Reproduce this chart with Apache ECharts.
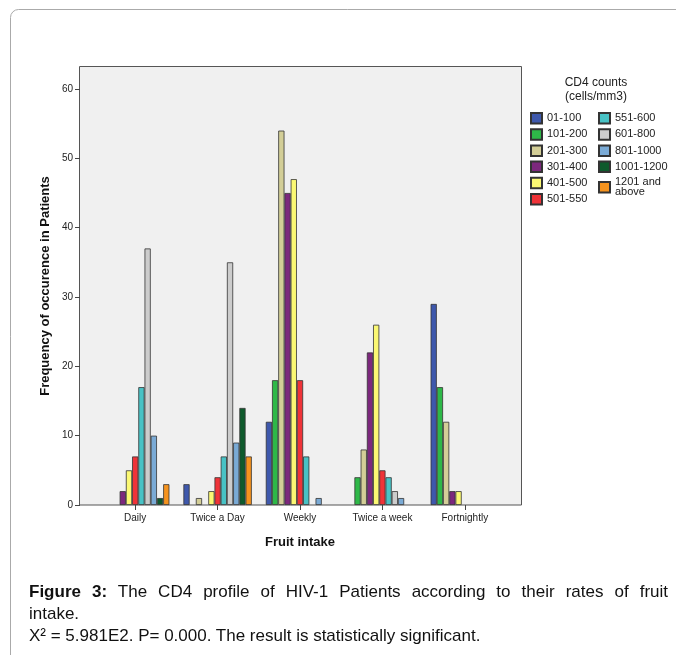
<!DOCTYPE html>
<html>
<head>
<meta charset="utf-8">
<script src="https://cdn.jsdelivr.net/npm/echarts@6/dist/echarts.min.js"></script>
<style>
  html, body { margin: 0; padding: 0; background: #fff; }
  #wrap { position: relative; width: 676px; height: 655px; overflow: hidden; }
  #chart { position: absolute; left: 0; top: 0; width: 676px; height: 655px; }
  #caption {
    position: absolute; left: 29px; right: 8px; top: 581px;
    font-family: 'Liberation Sans', Arial, sans-serif; font-size: 17px;
    line-height: 22px; color: #111; text-align: justify;
  }
  #caption .line1 { text-align-last: justify; }
</style>
</head>
<body>
<div id="wrap">
  <div id="chart"></div>
  <div id="caption">
    <div class="line1"><b>Figure 3:</b> The CD4 profile of HIV-1 Patients according to their rates of fruit</div>
    <div>intake.</div>
    <div>X² = 5.981E2. P= 0.000. The result is statistically significant.</div>
  </div>
</div>
<script>
var categories = ['Daily', 'Twice a Day', 'Weekly', 'Twice a week', 'Fortnightly'];
var seriesNames = ['01-100', '101-200', '201-300', '301-400', '401-500', '501-550',
                   '551-600', '601-800', '801-1000', '1001-1200', '1201 and above'];

// patients per fruit intake category, one array per CD4 band
var cd4_01_100 = [0, 3, 12, 0, 29];
var cd4_101_200 = [0, 0, 18, 4, 17];
var cd4_201_300 = [0, 1, 54, 8, 12];
var cd4_301_400 = [2, 0, 45, 22, 2];
var cd4_401_500 = [5, 2, 47, 26, 2];
var cd4_501_550 = [7, 4, 18, 5, 0];
var cd4_551_600 = [17, 7, 7, 4, 0];
var cd4_601_800 = [37, 35, 0, 2, 0];
var cd4_801_1000 = [10, 9, 1, 1, 0];
var cd4_1001_1200 = [1, 14, 0, 0, 0];
var cd4_1201_up = [3, 7, 0, 0, 0];

var seriesData = [cd4_01_100, cd4_101_200, cd4_201_300, cd4_301_400, cd4_401_500, cd4_501_550,
                  cd4_551_600, cd4_601_800, cd4_801_1000, cd4_1001_1200, cd4_1201_up];

var colors = ['#3E58AC', '#2EB848', '#D3CE97', '#7C287D', '#FBF873', '#EF3338',
              '#48C2C5', '#CCCCCC', '#7AAAD5', '#0E5A2C', '#F5931E'];

var font = "'Liberation Sans', Arial, sans-serif";
var chartDom = document.getElementById('chart');
var myChart = echarts.init(chartDom);

var series = seriesNames.map(function (name, i) {
    return {
        name: name,
        type: 'bar',
        // empty cells get no bar (SPSS draws nothing for zero counts)
        data: seriesData[i].map(function (v) { return v === 0 ? '-' : v; }),
        barGap: '0%',
        barCategoryGap: '17%',
        itemStyle: {
            color: colors[i],
            borderColor: '#333',
            borderWidth: 0.8
        }
    };
});

var legendStyle = {
    orient: 'vertical',
    itemWidth: 11,
    itemHeight: 10.5,
    itemGap: 3.7,
    padding: 0,
    icon: 'rect',
    selectedMode: false,
    textStyle: { fontFamily: font, fontSize: 11, lineHeight: 10, color: '#222' }
};

var option = {
    animation: false,
    grid: {
        left: 94,
        right: 170,
        top: 89,
        bottom: 150
    },
    graphic: [
        {
            type: 'rect',
            z: -10,
            shape: { x: 10.5, y: 9.5, width: 720, height: 720, r: 8 },
            style: { fill: 'none', stroke: '#aaa', lineWidth: 1 }
        },
        {
            type: 'rect',
            z: -5,
            shape: { x: 79.5, y: 66.5, width: 442, height: 438.5 },
            style: { fill: '#f0f0f0', stroke: '#555', lineWidth: 1 }
        },
        {
            type: 'text',
            x: 596,
            y: 76,
            style: {
                text: 'CD4 counts\n(cells/mm3)',
                align: 'center',
                font: '12px ' + font,
                fill: '#222',
                lineHeight: 14
            }
        },
        {
            // y-axis title, centred on the whole plot box
            type: 'text',
            x: 45,
            y: 286,
            rotation: Math.PI / 2,
            style: {
                text: 'Frequency of occurence in Patients',
                align: 'center',
                verticalAlign: 'middle',
                font: 'bold 13px ' + font,
                fill: '#111'
            }
        }
    ],
    legend: [
        Object.assign({ left: 530, top: 112, data: seriesNames.slice(0, 6) }, legendStyle),
        Object.assign({
            left: 598, top: 112, data: seriesNames.slice(6),
            formatter: function (n) { return n === '1201 and above' ? '1201 and\nabove' : n; }
        }, legendStyle)
    ],
    xAxis: {
        type: 'category',
        data: categories,
        name: 'Fruit intake',
        nameLocation: 'middle',
        nameGap: 31,
        nameTextStyle: { fontFamily: font, fontSize: 13, fontWeight: 'bold', color: '#111' },
        axisLine: { show: false },
        axisTick: { show: true, alignWithLabel: true, length: 5, lineStyle: { color: '#444' } },
        axisLabel: { fontFamily: font, fontSize: 10, color: '#222', margin: 8 }
    },
    yAxis: {
        type: 'value',
        min: 0,
        max: 60,
        interval: 10,
        offset: 14,
        axisLine: { show: false },
        axisTick: { show: true, length: 5, lineStyle: { color: '#444' } },
        splitLine: { show: false },
        axisLabel: { fontFamily: font, fontSize: 10, color: '#222', margin: 7 }
    },
    series: series
};

option && myChart.setOption(option);
</script>
</body>
</html>
